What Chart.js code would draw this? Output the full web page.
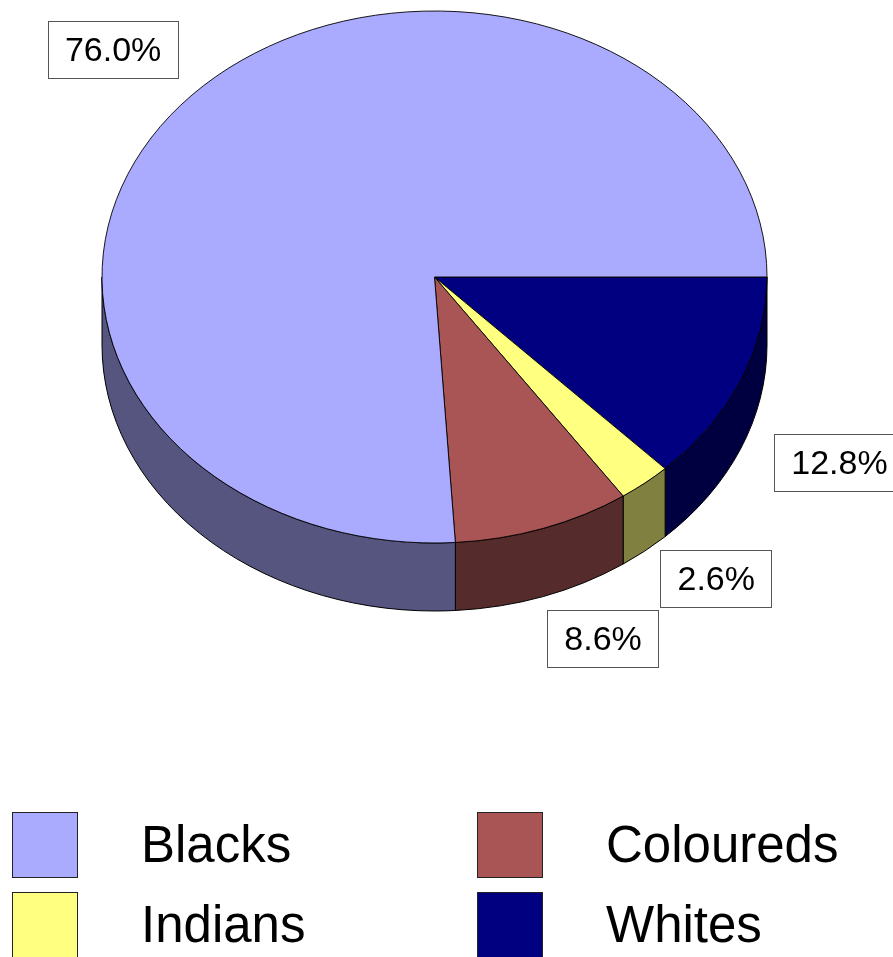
<!DOCTYPE html>
<html>
<head>
<meta charset="utf-8">
<script src="https://cdn.jsdelivr.net/npm/chart.js@4"></script>
<style>
  body { margin: 0; background: #fff; }
  #wrap { position: relative; width: 893px; height: 957px; overflow: hidden; }
  #pie { position: absolute; left: 0; top: 0; }
  .legend-item { position: absolute; height: 66px; display: flex; align-items: center; }
  .legend-box { width: 64px; height: 64px; border: 1px solid #222; flex: none; }
  .legend-text { margin-left: 63px; font: 51px "Liberation Sans", Arial, sans-serif; line-height: 66px; color: #000; white-space: nowrap; }
</style>
</head>
<body>
<div id="wrap">
  <canvas id="pie" width="893" height="957"></canvas>
</div>
<script>
// Population groups and their share (%)
const groups = ['Blacks', 'Coloureds', 'Indians', 'Whites'];
const shares = [76.0, 8.6, 2.6, 12.8];
const shareLabels = ['76.0%', '8.6%', '2.6%', '12.8%'];
const colours = ['#AAAAFF', '#AA5555', '#FFFF80', '#000080'];

// look of the 3d pie
const TILT = 0.8;      // vertical squash of the top face
const DEPTH = 68;      // thickness of the pie
const TOP_MARGIN = 11;
// small nudges for the % boxes so they sit where excel put them
const labelNudge = [[1, -2], [24, -14], [2, -7], [-2, 30]];

// darker colour for the sides
function shade(hex) {
    const n = parseInt(hex.slice(1), 16);
    const r = (n >> 16) & 255, g = (n >> 8) & 255, b = n & 255;
    return 'rgb(' + Math.round(r / 2) + ',' + Math.round(g / 2) + ',' + Math.round(b / 2) + ')';
}

// chart draws clockwise from 3 o'clock, excel went the other way
const order = [3, 2, 1, 0];

function pieCentre(chart, arc) {
    return { x: arc.x, y: chart.chartArea.top + TOP_MARGIN + arc.outerRadius * TILT };
}

const pie3d = {
    id: 'pie3d',
    beforeDatasetsDraw(chart) {
        const ctx = chart.ctx;
        const arcs = chart.getDatasetMeta(0).data;
        const c = pieCentre(chart, arcs[0]);
        const r = arcs[0].outerRadius;
        const ry = r * TILT;

        // side walls, only the front half can be seen
        arcs.forEach((arc, i) => {
            const s = Math.max(arc.startAngle, 0);
            const e = Math.min(arc.endAngle, Math.PI);
            if (s >= e) return;
            ctx.beginPath();
            ctx.ellipse(c.x, c.y, r, ry, 0, s, e);
            ctx.ellipse(c.x, c.y + DEPTH, r, ry, 0, e, s, true);
            ctx.closePath();
            ctx.fillStyle = shade(colours[order[i]]);
            ctx.fill();
            ctx.lineWidth = 1;
            ctx.strokeStyle = '#000';
            ctx.stroke();
        });

        // squash the top face
        ctx.save();
        ctx.translate(c.x, c.y);
        ctx.scale(1, TILT);
        ctx.translate(-arcs[0].x, -arcs[0].y);
    },
    afterDatasetsDraw(chart) {
        const ctx = chart.ctx;
        ctx.restore();

        const arcs = chart.getDatasetMeta(0).data;
        const c = pieCentre(chart, arcs[0]);
        const r = arcs[0].outerRadius;
        const ry = r * TILT;

        ctx.save();
        ctx.font = '34px "Liberation Sans", Arial, sans-serif';
        ctx.textAlign = 'center';
        ctx.textBaseline = 'middle';
        arcs.forEach((arc, i) => {
            const k = order[i];
            const mid = (arc.startAngle + arc.endAngle) / 2;
            const sin = Math.sin(mid), cos = Math.cos(mid);
            const x = c.x + 1.33 * r * cos + labelNudge[k][0];
            const y = c.y + 1.24 * ry * sin + (sin > 0 ? DEPTH * sin : 0) + labelNudge[k][1];
            const w = ctx.measureText(shareLabels[k]).width + 34;
            const h = 57;
            ctx.fillStyle = '#fff';
            ctx.fillRect(Math.round(x - w / 2) + 0.5, Math.round(y - h / 2) + 0.5, Math.round(w), h);
            ctx.strokeStyle = '#555';
            ctx.lineWidth = 1;
            ctx.strokeRect(Math.round(x - w / 2) + 0.5, Math.round(y - h / 2) + 0.5, Math.round(w), h);
            ctx.fillStyle = '#000';
            ctx.fillText(shareLabels[k], x, y + 2);
        });
        ctx.restore();
    }
};

new Chart(document.getElementById('pie'), {
    type: 'pie',
    data: {
        labels: order.map(i => groups[i]),
        datasets: [{
            data: order.map(i => shares[i]),
            backgroundColor: order.map(i => colours[i]),
            borderColor: '#000',
            borderWidth: 1
        }]
    },
    options: {
        responsive: false,
        animation: false,
        events: [],
        rotation: 90,
        layout: { padding: { left: 101, right: 125, top: 0, bottom: 291 } },
        plugins: {
            legend: { display: false },
            tooltip: { enabled: false }
        }
    },
    plugins: [pie3d]
});

// legend in two columns, same order as excel
const wrap = document.getElementById('wrap');
const colX = [12, 477];
const rowY = [812, 892];
groups.forEach((g, i) => {
    const item = document.createElement('div');
    item.className = 'legend-item';
    item.style.left = colX[i % 2] + 'px';
    item.style.top = rowY[Math.floor(i / 2)] + 'px';
    const box = document.createElement('div');
    box.className = 'legend-box';
    box.style.background = colours[i];
    const txt = document.createElement('span');
    txt.className = 'legend-text';
    txt.textContent = g;
    item.appendChild(box);
    item.appendChild(txt);
    wrap.appendChild(item);
});
</script>
</body>
</html>
